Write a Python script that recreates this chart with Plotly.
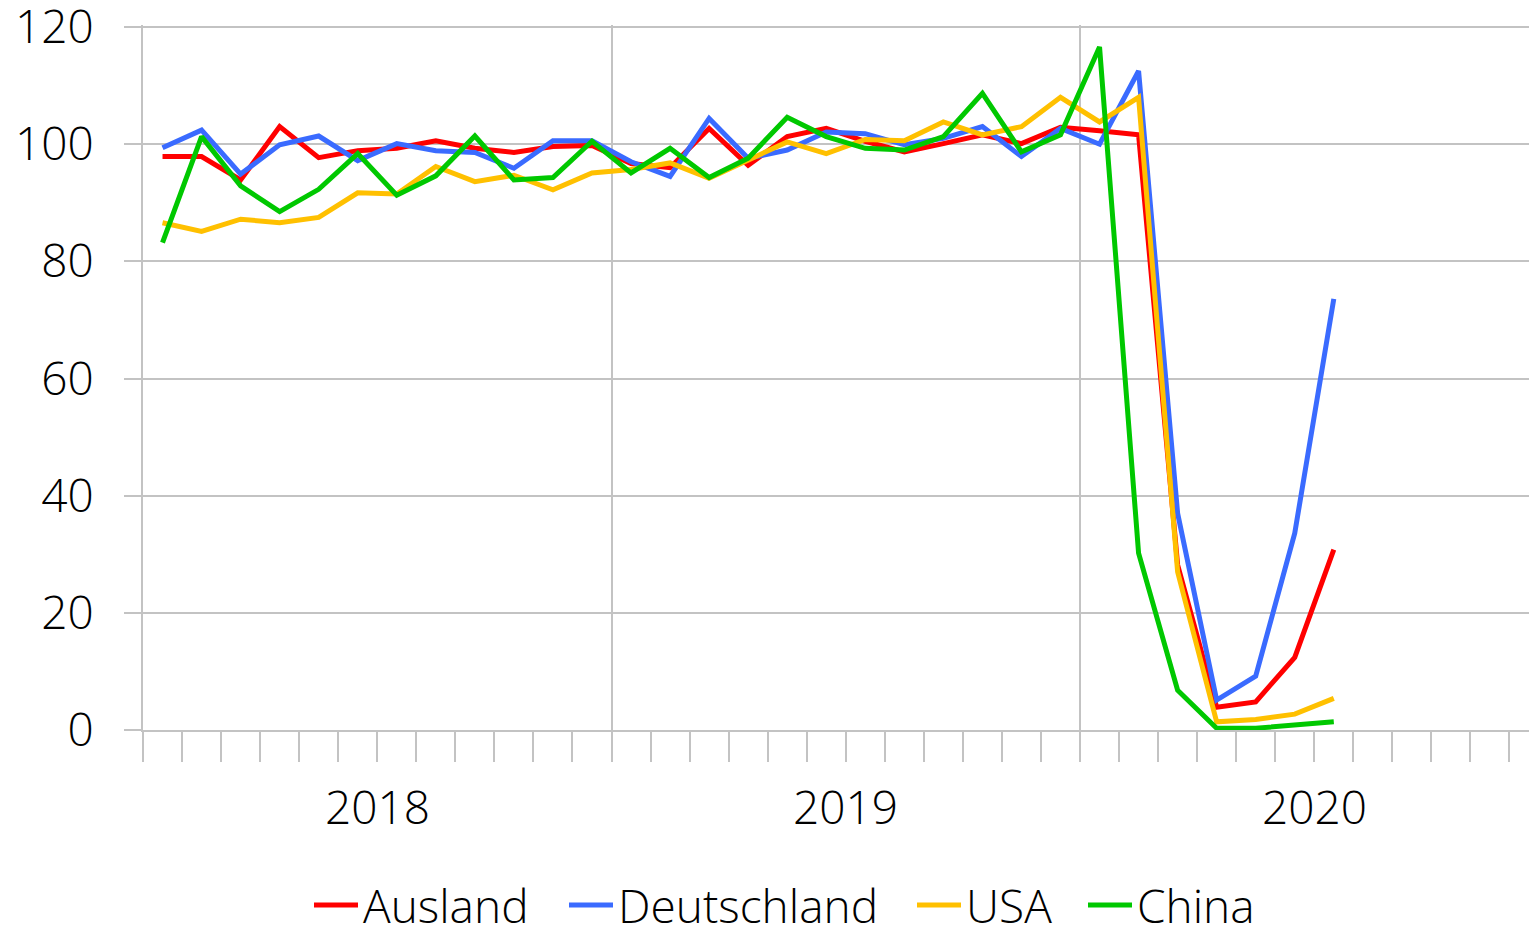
import plotly.graph_objects as go

# Monthly index Jan 2018 .. Jul 2020 (31 months)
months = [f"{y}-{m:02d}" for y in (2018, 2019, 2020) for m in range(1, 13)][:31]
years = ["2018", "2019", "2020"]

ausland = [97.9, 97.9, 93.9, 103.0, 97.7, 98.9, 99.3, 100.6, 99.3, 98.6, 99.6, 99.8,
           96.7, 96.0, 102.7, 96.4, 101.3, 102.7, 100.5, 98.7, 100.1, 101.6, 100.1, 102.9,
           102.3, 101.6, 28.2, 3.9, 4.8, 12.4, 30.8]
deutschland = [99.4, 102.4, 94.9, 99.9, 101.4, 97.2, 100.1, 98.9, 98.6, 95.9, 100.6, 100.6,
               97.0, 94.5, 104.4, 97.6, 99.0, 102.1, 101.8, 99.9, 101.0, 103.0, 97.9, 102.7,
               100.0, 112.5, 37.0, 5.1, 9.2, 33.6, 73.6]
usa = [86.6, 85.1, 87.2, 86.6, 87.5, 91.7, 91.5, 96.2, 93.6, 94.7, 92.2, 95.1,
       95.7, 96.8, 94.2, 97.3, 100.4, 98.4, 100.8, 100.6, 103.8, 101.6, 103.0, 108.0,
       103.8, 108.0, 27.0, 1.4, 1.8, 2.7, 5.4]
china = [83.2, 101.3, 92.9, 88.5, 92.3, 98.4, 91.3, 94.6, 101.4, 93.9, 94.3, 100.5,
         95.1, 99.3, 94.3, 97.6, 104.6, 101.3, 99.3, 99.0, 101.3, 108.7, 98.7, 101.6,
         116.6, 30.2, 6.8, 0.3, 0.3, 0.85, 1.4]

series_names = ["Ausland", "Deutschland", "USA", "China"]
series_values = [ausland, deutschland, usa, china]
colors = ["#FF0000", "#3A6BFF", "#FFC000", "#00C800"]
legend_ids = ["legend", "legend2", "legend3", "legend4"]
legend_x_px = [309, 564, 912, 1083]

FONT = "Open Sans"
FS = 46
GRID = "#C3C3C3"
W, H = 1529, 926

x_idx = list(range(len(months)))

fig = go.Figure()
for name, vals, col, lg in zip(series_names, series_values, colors, legend_ids):
    fig.add_trace(go.Scatter(
        x=x_idx, y=vals, mode="lines", name=name,
        line=dict(color=col, width=5),
        customdata=months, hovertemplate="%{customdata}: %{y}<extra>" + name + "</extra>",
        legend=lg,
    ))

legend_common = dict(
    orientation="h", xref="container", yref="container",
    xanchor="left", yanchor="middle", y=1 - 905 / H,
    font=dict(family=FONT, size=FS, color="black", weight=300),
    bgcolor="rgba(0,0,0,0)", borderwidth=0, itemwidth=44,
)
layout_legends = {}
for lg, px in zip(legend_ids, legend_x_px):
    layout_legends[lg] = dict(legend_common, x=px / W)

annotations = []
for i, yr in enumerate(years):
    annotations.append(dict(
        x=5.5 + 12 * i, xref="x", y=-(806 - 730) / 703, yref="paper",
        text=yr, showarrow=False, xanchor="center", yanchor="middle",
        font=dict(family=FONT, size=FS, color="black", weight=300),
    ))

fig.update_layout(
    width=W, height=H,
    margin=dict(l=143, r=0, t=25, b=196, pad=0, autoexpand=False),
    paper_bgcolor="white", plot_bgcolor="white",
    font=dict(family=FONT, size=FS, color="black", weight=300),
    showlegend=True,
    annotations=annotations,
    xaxis=dict(
        type="linear", range=[-0.5, 35.0],
        tickmode="array", tickvals=[-0.5, 11.5, 23.5, 35.5], ticktext=["", "", "", ""],
        showticklabels=False,
        ticks="outside", ticklen=107, tickwidth=2, tickcolor=GRID,
        showgrid=True, gridcolor=GRID, gridwidth=2,
        zeroline=False,
        showline=True, linecolor=GRID, linewidth=2,
        minor=dict(tickmode="linear", tick0=-0.5, dtick=1, ticks="outside",
                   ticklen=30, tickwidth=2, tickcolor=GRID, showgrid=False),
        fixedrange=True,
    ),
    yaxis=dict(
        range=[0, 120.35], tickmode="array", tickvals=[0, 20, 40, 60, 80, 100, 120],
        ticks="outside", ticklen=17, tickwidth=2, tickcolor=GRID,
        showgrid=True, gridcolor=GRID, gridwidth=2,
        zeroline=False, showline=True, linecolor=GRID, linewidth=2,
        ticklabelstandoff=21, ticklabeloverflow="allow",
        tickfont=dict(family=FONT, size=FS, color="black", weight=300),
        fixedrange=True,
    ),
    **layout_legends,
)

fig.write_html(
    "out.html",
    config={"displayModeBar": False},
    post_script="document.body.style.margin='0px';document.body.style.overflow='hidden';",
)
